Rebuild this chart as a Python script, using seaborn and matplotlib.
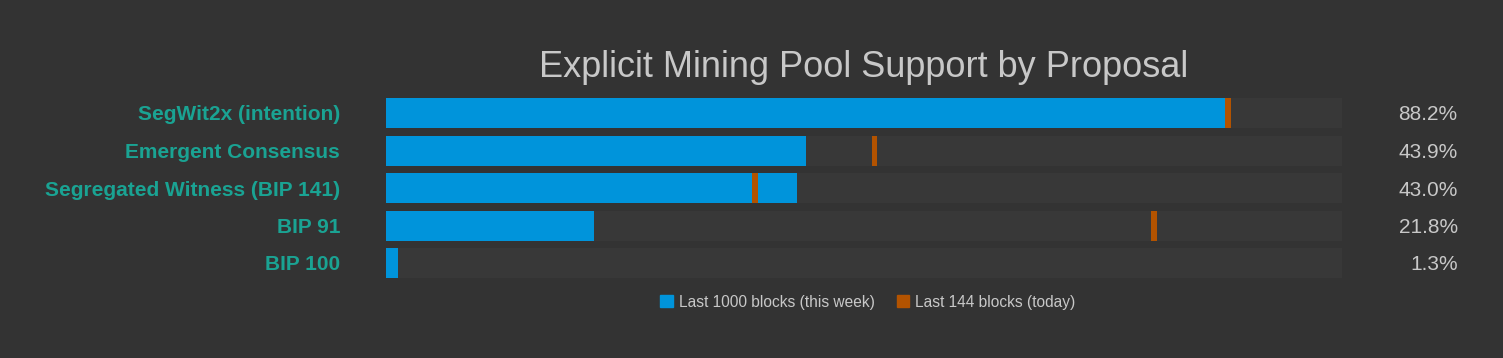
import pandas as pd
import matplotlib
matplotlib.use("Agg")
import matplotlib.pyplot as plt
import matplotlib.patches as mpatches
import seaborn as sns

# --- data ---
proposals = ["SegWit2x (intention)", "Emergent Consensus", "Segregated Witness (BIP 141)",
             "BIP 91", "BIP 100"]
week_pct = [88.2, 43.9, 43.0, 21.8, 1.3]        # last 1000 blocks
today_pct = [87.8, 50.8, 38.3, 80.0, None]      # last 144 blocks (marker position)

BG = "#333333"
TRACK = "#383838"
BLUE = "#0094db"
ORANGE = "#b35300"
TEXT = "#c8c8c8"
LABEL = "#1aa393"

sns.set_theme(style="dark")
plt.rcParams["font.family"] = ["Liberation Sans", "DejaVu Sans"]

df = pd.DataFrame({"proposal": proposals, "week": week_pct, "full": [100] * len(proposals)})

fig = plt.figure(figsize=(15.03, 3.58), dpi=100, facecolor=BG)
ax = fig.add_axes([386 / 1503, 1 - 278 / 358, 956 / 1503, 180 / 358])
ax.set_facecolor(BG)

# background track, then weekly share
sns.barplot(data=df, x="full", y="proposal", color=TRACK, width=0.8,
            saturation=1, linewidth=0, ax=ax, orient="h")
sns.barplot(data=df, x="week", y="proposal", color=BLUE, width=0.8,
            saturation=1, linewidth=0, ax=ax, orient="h")

# today's share as a thin marker
for i, v in enumerate(today_pct):
    if v is not None:
        ax.barh(i, 0.6, left=v, height=0.8, color=ORANGE, linewidth=0)

for i, v in enumerate(week_pct):
    ax.text(112.1, i, f"{v:.1f}%", ha="right", va="center_baseline", color=TEXT,
            fontsize=15, clip_on=False)

ax.set_xlim(0, 100)
ax.set_ylim(4.4, -0.4)
ax.set_xlabel("")
ax.set_ylabel("")
ax.set_xticks([])
ax.tick_params(axis="y", length=0, pad=33)
for lbl in ax.get_yticklabels():
    lbl.set_color(LABEL)
    lbl.set_fontweight("bold")
    lbl.set_fontsize(15)
    lbl.set_verticalalignment("center_baseline")
for s in ax.spines.values():
    s.set_visible(False)
ax.grid(False)

ax.set_title("Explicit Mining Pool Support by Proposal", color=TEXT, fontsize=26, pad=15)

handles = [mpatches.Patch(color=BLUE, label="Last 1000 blocks (this week)"),
           mpatches.Patch(color=ORANGE, label="Last 144 blocks (today)")]
fig.legend(handles=handles, loc="center", bbox_to_anchor=(868 / 1503, 1 - 302 / 358),
           ncol=2, frameon=False, fontsize=11.2, labelcolor=TEXT,
           handlelength=0.8, handleheight=0.8, handletextpad=0.4, columnspacing=1.4)

fig.savefig("out.png", dpi=100, facecolor=BG)
